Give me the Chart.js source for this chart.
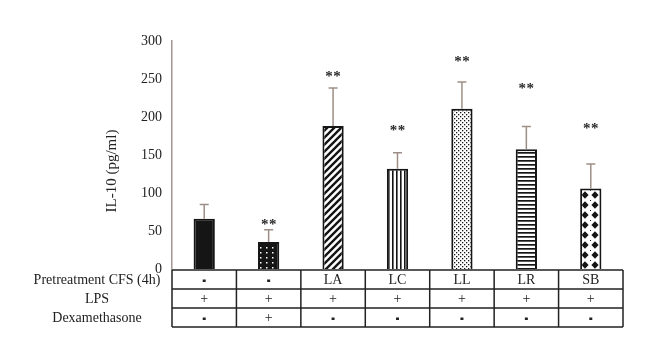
<!DOCTYPE html>
<html>
<head>
<meta charset="utf-8">
<script src="https://cdn.jsdelivr.net/npm/chart.js@4.4.1/dist/chart.umd.min.js"></script>
<style>
  html, body { margin: 0; background: #fff; }
  #wrap { width: 660px; height: 362px; }
</style>
</head>
<body>
<div id="wrap"><canvas id="c"></canvas></div>
<script>
// values
const groups = ['-', '-', 'LA', 'LC', 'LL', 'LR', 'SB'];
const lps = ['+', '+', '+', '+', '+', '+', '+'];
const dexa = ['-', '+', '-', '-', '-', '-', '-'];
const il10 = [66, 35.5, 188, 132, 211, 157.5, 106];
const il10Err = [19, 16, 50, 21, 35, 30, 32];
const stars = ['', '**', '**', '**', '**', '**', '**'];
const starAt = [0, 62, 256, 185, 276, 240, 188];
const yTicks = [0, 50, 100, 150, 200, 250, 300];
const rowLabels = ['Pretreatment CFS (4h)', 'LPS', 'Dexamethasone'];
const yTitle = 'IL-10 (pg/ml)';

const canvas = document.getElementById('c');
const mainCtx = canvas.getContext('2d');
const INK = '#151515';

// small helper to build fill patterns for the bars
function makePattern(w, h, bg, draw) {
  const c = document.createElement('canvas');
  c.width = w; c.height = h;
  const g = c.getContext('2d');
  g.fillStyle = bg; g.fillRect(0, 0, w, h);
  g.fillStyle = INK; g.strokeStyle = INK;
  draw(g, w, h);
  return mainCtx.createPattern(c, 'repeat');
}

const fills = [
  INK,
  // dark with white dots
  makePattern(6, 5, INK, g => { g.fillStyle = '#fff'; g.fillRect(2, 2, 1.5, 1.5); }),
  // diagonal stripes
  makePattern(7, 7, '#fff', g => {
    g.lineWidth = 2.4;
    g.beginPath();
    g.moveTo(-1, 8); g.lineTo(8, -1);
    g.moveTo(-2, 2); g.lineTo(2, -2);
    g.moveTo(5, 9); g.lineTo(9, 5);
    g.stroke();
  }),
  // vertical stripes
  makePattern(4, 1, '#fff', g => { g.fillRect(0, 0, 1.6, 1); }),
  // fine dots
  makePattern(4, 4, '#fff', g => { g.fillRect(0, 0, 1.3, 1.3); g.fillRect(2, 2, 1.3, 1.3); }),
  // horizontal stripes
  makePattern(1, 4, '#fff', g => { g.fillRect(0, 0, 1, 1.7); }),
  // diamonds
  makePattern(10, 10, '#fff', g => {
    g.beginPath();
    g.moveTo(5, 1.2); g.lineTo(8.6, 5); g.lineTo(5, 8.8); g.lineTo(1.4, 5); g.closePath();
    g.fill();
    g.fillRect(0, 0, 1, 1);
  })
];

const errorBars = {
  id: 'errorBars',
  afterDatasetsDraw(chart) {
    const { ctx, scales: { y } } = chart;
    const meta = chart.getDatasetMeta(0);
    ctx.save();
    meta.data.forEach((bar, i) => {
      const top = y.getPixelForValue(il10[i] + il10Err[i]);
      ctx.strokeStyle = '#9d8f87';
      ctx.lineWidth = 1.5;
      ctx.beginPath();
      ctx.moveTo(bar.x, bar.y);
      ctx.lineTo(bar.x, top);
      ctx.moveTo(bar.x - 4.5, top);
      ctx.lineTo(bar.x + 4.5, top);
      ctx.stroke();
      if (stars[i]) {
        const sy = y.getPixelForValue(starAt[i]);
        ctx.fillStyle = '#2a2a2a';
        ctx.font = 'bold 15px "Liberation Serif"';
        ctx.textAlign = 'center';
        ctx.textBaseline = 'middle';
        ctx.fillText('*', bar.x - 4, sy + 3);
        ctx.fillText('*', bar.x + 4, sy + 3);
      }
    });
    ctx.restore();
  }
};

// axis title sits a bit below the middle of the axis in the figure
const axisTitle = {
  id: 'axisTitle',
  afterDraw(chart) {
    const { ctx } = chart;
    ctx.save();
    ctx.translate(112, 171);
    ctx.rotate(-Math.PI / 2);
    ctx.fillStyle = '#222';
    ctx.font = '15px "Liberation Serif"';
    ctx.textAlign = 'center';
    ctx.textBaseline = 'middle';
    ctx.fillText(yTitle, 0, 0);
    ctx.restore();
  }
};

// table of treatments under the bars
const treatmentTable = {
  id: 'treatmentTable',
  afterDraw(chart) {
    const { ctx, chartArea: a, scales: { x } } = chart;
    const rows = [groups, lps, dexa];
    const rowH = 19;
    const top = a.bottom + 1;
    ctx.save();
    ctx.strokeStyle = '#222';
    ctx.lineWidth = 1.5;
    ctx.beginPath();
    for (let r = 0; r <= rows.length; r++) {
      ctx.moveTo(a.left, top + r * rowH);
      ctx.lineTo(a.right, top + r * rowH);
    }
    for (let i = 0; i <= groups.length; i++) {
      let xx;
      if (i === 0) xx = a.left;
      else if (i === groups.length) xx = a.right;
      else xx = (x.getPixelForValue(i - 1) + x.getPixelForValue(i)) / 2;
      ctx.moveTo(xx, top);
      ctx.lineTo(xx, top + rows.length * rowH);
    }
    ctx.stroke();

    ctx.fillStyle = '#222';
    ctx.font = '14px "Liberation Serif"';
    ctx.textAlign = 'center';
    ctx.textBaseline = 'middle';
    rows.forEach((row, r) => {
      const cy = top + r * rowH + rowH / 2 + 1;
      row.forEach((t, i) => {
        if (t === '-') ctx.fillRect(x.getPixelForValue(i) - 1.5, cy - 1, 3, 2.5);
        else ctx.fillText(t, x.getPixelForValue(i), cy);
      });
      ctx.fillText(rowLabels[r], 97, cy);
    });
    ctx.restore();
  }
};

new Chart(canvas, {
  type: 'bar',
  data: {
    labels: groups,
    datasets: [{
      data: il10,
      backgroundColor: fills,
      borderColor: INK,
      borderWidth: 2,
      barPercentage: 0.33,
      categoryPercentage: 1
    }]
  },
  options: {
    responsive: true,
    maintainAspectRatio: false,
    animation: false,
    devicePixelRatio: 1,
    layout: { padding: { left: 100, right: 37, top: 41, bottom: 93 } },
    plugins: { legend: { display: false }, tooltip: { enabled: false } },
    scales: {
      x: { display: false },
      y: {
        min: 0,
        max: 300,
        afterBuildTicks: s => { s.ticks = yTicks.map(v => ({ value: v })); },
        afterFit: s => { s.width = 72; },
        grid: { display: false, drawTicks: false },
        border: { display: true, color: '#a39690', width: 1.5 },
        ticks: { padding: 10, color: '#222', font: { family: 'Liberation Serif', size: 14 } }
      }
    }
  },
  plugins: [errorBars, axisTitle, treatmentTable]
});
</script>
</body>
</html>
